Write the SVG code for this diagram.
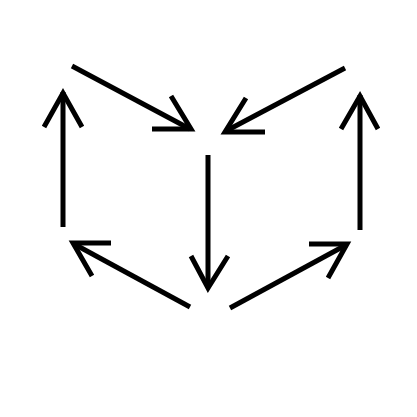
<svg xmlns="http://www.w3.org/2000/svg" width="417" height="417" viewBox="0 0 417 417">
<style>
.a{fill:none;stroke:#000;stroke-width:5;stroke-linecap:butt;stroke-linejoin:miter;stroke-miterlimit:10}
</style>
<rect width="417" height="417" fill="#fff"/>
<g id="connectors">
<g id="arrow-top-left"><path class="a" d="M72,66 L190,129"/><path class="a" d="M152,129 L191,129 L171,96"/></g>
<g id="arrow-top-right"><path class="a" d="M345,68 L226,131"/><path class="a" d="M265,132 L225,132 L246,98"/></g>
<g id="arrow-left-up"><path class="a" d="M63,227 L63,92"/><path class="a" d="M44,127 L63,93 L82,127"/></g>
<g id="arrow-right-up"><path class="a" d="M360,230 L360,95"/><path class="a" d="M341,129 L360,96 L378,129"/></g>
<g id="arrow-center-down"><path class="a" d="M208,155 L208,288"/><path class="a" d="M191,256 L208,288 L228,256"/></g>
<g id="arrow-bottom-left"><path class="a" d="M190,307 L74,244"/><path class="a" d="M111,243 L73,243 L92,276"/></g>
<g id="arrow-bottom-right"><path class="a" d="M230,308 L346,245"/><path class="a" d="M309,244 L347,244 L328,278"/></g>
</g>
</svg>
